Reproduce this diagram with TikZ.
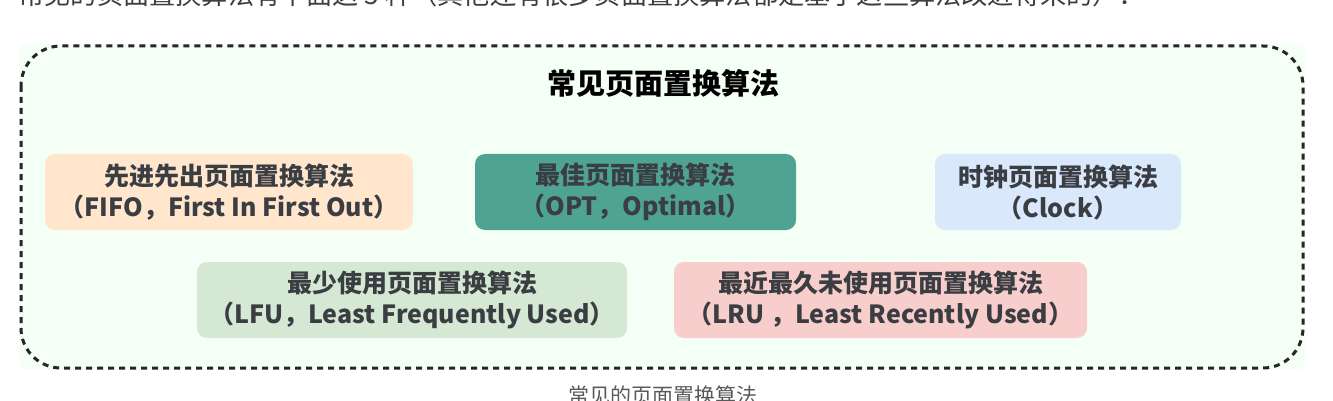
\documentclass[tikz,border=0pt]{standalone}
\usepackage{fontspec}
\setmainfont{Noto Sans CJK SC}
\definecolor{mintbg}{HTML}{F4FFF6}
\definecolor{fifocol}{HTML}{FFE6CC}
\definecolor{optcol}{HTML}{4FA393}
\definecolor{clockcol}{HTML}{DAE8FC}
\definecolor{lfucol}{HTML}{D5E8D4}
\definecolor{lrucol}{HTML}{F8CECC}
\definecolor{boxtext}{HTML}{3A3D42}
\begin{document}
\begin{tikzpicture}[x=0.5pt,y=-0.5pt,
  algbox/.style={rounded corners=5pt,minimum height=38pt,inner sep=0pt,align=center,text=boxtext,font=\bfseries\fontsize{12.5}{15.5}\selectfont}]
\useasboundingbox (0,0) rectangle (1333,401);
\clip (0,0) rectangle (1333,401);

\node[anchor=base west,inner sep=0pt,text=boxtext,font=\fontsize{13.1}{15}\selectfont] (intro) at (18,5) {常见的页面置换算法有下面这 5 种（其他还有很多页面置换算法都是基于这些算法改进得来的）：};

\fill[mintbg,rounded corners=4pt] (19,44) rectangle (1305,370);
\draw[line width=1.5pt,dash pattern=on 3pt off 2.5pt,color=black!85,rounded corners=20pt] (21,46) rectangle (1303,368);

\node[font=\bfseries\fontsize{14.5}{16}\selectfont] (title) at (663,83) {常见页面置换算法};

\node[algbox,fill=fifocol,minimum width=184pt] (fifo) at (229,192) {先进先出页面置换算法\\（FIFO，First In First Out）};
\node[algbox,fill=optcol,minimum width=160.5pt] (opt) at (635.5,192) {最佳页面置换算法\\（OPT，Optimal）};
\node[algbox,fill=clockcol,minimum width=123pt] (clock) at (1058,192) {时钟页面置换算法\\（Clock）};

\node[algbox,fill=lfucol,minimum width=215pt] (lfu) at (412,300) {最少使用页面置换算法\\（LFU，Least Frequently Used）};
\node[algbox,fill=lrucol,minimum width=206.5pt] (lru) at (880.5,300) {最近最久未使用页面置换算法\\（LRU ，Least Recently Used）};

\node[anchor=base,inner sep=0pt,text=black!65,font=\fontsize{10.5}{12}\selectfont] (caption) at (663,403) {常见的页面置换算法};
\end{tikzpicture}
\end{document}
